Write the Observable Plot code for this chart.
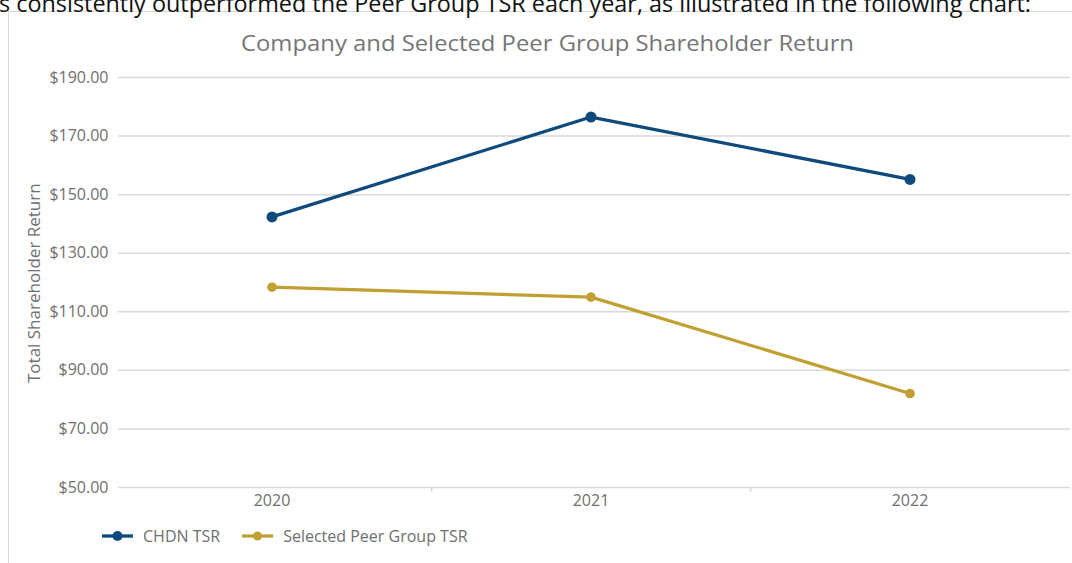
<!DOCTYPE html>
<html>
<head>
<meta charset="utf-8">
<script src="https://cdn.jsdelivr.net/npm/d3@7"></script>
<script src="https://cdn.jsdelivr.net/npm/@observablehq/plot@0.6"></script>
<style>
  html, body { margin: 0; padding: 0; background: #fff; overflow: hidden; }
  body { width: 1072px; height: 563px; position: relative; font-family: "Open Sans", "Noto Sans", sans-serif; }
  .abs { position: absolute; white-space: nowrap; transform-origin: 0 0; }
  #frame { position: absolute; left: 8px; top: 11px; width: 1080px; height: 600px; border-left: 1.5px solid #d9d9d9; border-top: 1px solid #d9d9d9; }
  #sentence { left: -1px; top: -14px; font-size: 24px; color: #111; }
  #title { top: 29px; font-size: 21px; color: #757575; }
  #ylabel { font-size: 17px; color: #6f6f6f; }
  #legend { position: absolute; left: 102px; top: 525px; font-size: 16px; color: #6f6f6f; display: flex; align-items: center; white-space: nowrap; }
  #legend .item { display: flex; align-items: center; margin-right: 22px; }
  #legend svg { margin-right: 10px; }
  #chart { position: absolute; left: 0; top: 0; }
</style>
</head>
<body>
<div id="frame"></div>
<div id="sentence" class="abs">s consistently outperformed the Peer Group TSR each year, as illustrated in the following chart:</div>
<div id="title" class="abs">Company and Selected Peer Group Shareholder Return</div>
<div id="chart"></div>
<div id="ylabel" class="abs">Total Shareholder Return</div>
<div id="legend"></div>
<script>
const years = ["2020", "2021", "2022"];
const seriesNames = ["CHDN TSR", "Selected Peer Group TSR"];
const chdnTSR = [142.4, 176.5, 155.2];
const peerTSR = [118.4, 115.0, 82.1];
const yTicks = [50, 70, 90, 110, 130, 150, 170, 190];
const colors = ["#0e4a7b", "#c0a033"];

const data = [];
years.forEach((y, i) => {
  data.push({year: y, series: seriesNames[0], value: chdnTSR[i]});
  data.push({year: y, series: seriesNames[1], value: peerTSR[i]});
});

const xRange = [111, 1069];
const half = (xRange[1] - xRange[0]) / years.length / 2;

const plot = Plot.plot({
  width: 1072,
  height: 563,
  marginTop: 77,
  marginBottom: 76,
  marginLeft: 118,
  marginRight: 2,
  style: {fontFamily: "'Open Sans', 'Noto Sans', sans-serif", fontSize: "16px", color: "#6f6f6f", background: "transparent", overflow: "visible"},
  x: {type: "band", domain: years, range: xRange, padding: 0, label: null},
  y: {domain: [50, 190], label: null},
  color: {domain: seriesNames, range: colors},
  marks: [
    Plot.ruleY(yTicks, {y: d => d, stroke: "#d9d9d9", strokeWidth: 1.5, strokeOpacity: 1}),
    Plot.ruleX(years.slice(0, 2), {x: d => d, dx: half, y1: 50, y2: 50, insetBottom: -5, stroke: "#d9d9d9", strokeWidth: 1.5}),
    Plot.axisY(yTicks, {tickSize: 0, tickPadding: 10, tickFormat: d => "$" + d.toFixed(2), fill: "#6f6f6f", fontSize: 16, label: null}),
    Plot.axisX({tickSize: 0, tickPadding: 7, fill: "#6f6f6f", fontSize: 16, label: null}),
    Plot.line(data, {x: "year", y: "value", stroke: "series", strokeWidth: 3.3, z: "series"}),
    Plot.dot(data.filter(d => d.series === seriesNames[0]), {x: "year", y: "value", fill: "series", r: 5.5}),
    Plot.dot(data.filter(d => d.series === seriesNames[1]), {x: "year", y: "value", fill: "series", r: 4.8})
  ]
});
document.getElementById("chart").appendChild(plot);

// legend
const legend = document.getElementById("legend");
seriesNames.forEach((name, i) => {
  const item = document.createElement("div");
  item.className = "item";
  item.innerHTML = `<svg width="31" height="12"><line x1="0" x2="31" y1="6" y2="6" stroke="${colors[i]}" stroke-width="3.3"/><circle cx="15.5" cy="6" r="${i === 0 ? 5 : 4.5}" fill="${colors[i]}"/></svg><span>${name}</span>`;
  legend.appendChild(item);
});

// fit text widths to the reference's narrower font
function fitWidth(el, target) {
  const w = el.getBoundingClientRect().width;
  el.style.transform = `scaleX(${target / w})`;
}
const sentence = document.getElementById("sentence");
fitWidth(sentence, 1032);
const title = document.getElementById("title");
const tw = title.getBoundingClientRect().width;
const ttarget = 613;
title.style.left = (547 - ttarget / 2) + "px";
title.style.transform = `scaleX(${ttarget / tw})`;

const yl = document.getElementById("ylabel");
const yw = yl.getBoundingClientRect().width;
const yh = yl.getBoundingClientRect().height;
yl.style.left = (33 - yh / 2) + "px";
yl.style.top = (283 + yw / 2) + "px";
yl.style.transform = "rotate(-90deg)";
</script>
</body>
</html>
